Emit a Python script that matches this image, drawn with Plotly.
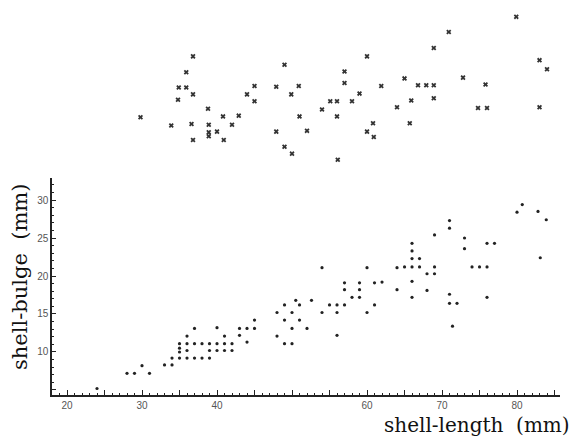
import plotly.graph_objects as go

# lower scatter: shell-length (mm) vs shell-bulge (mm)
length_mm = [24, 28, 29, 30, 31, 33, 34, 34,
             35, 36, 37, 38, 39,
             35, 35, 35, 36, 36, 36, 37, 37, 38,
             39, 39, 40, 40, 40, 41, 41, 41, 42, 42,
             43, 43, 44, 44, 45, 45,
             48, 48, 49, 49, 49, 50, 50, 50, 50.5, 51, 51, 52, 52.6,
             54, 54, 55, 56, 56, 56, 57, 57, 57, 58, 59, 59, 59,
             60, 60, 61, 61, 62, 64, 64, 65,
             66, 66, 66, 66, 66, 66, 67, 67, 68, 68, 69, 69, 69,
             71, 71, 71, 71, 71.4, 72, 73, 73, 74, 75, 76, 76, 77, 76,
             80, 80.7, 82.8, 83.9, 83.1]
bulge_mm = [5.2, 7.2, 7.2, 8.2, 7.2, 8.3, 8.3, 9.2,
            9.2, 9.2, 9.2, 9.2, 9.2,
            10.0, 10.5, 11.1, 10.2, 11.1, 12.1, 11.1, 13.1, 11.1,
            10.2, 11.1, 10.2, 11.1, 13.2, 10.2, 11.1, 12.1, 10.2, 11.1,
            12.2, 13.1, 11.3, 13.1, 13.1, 14.2,
            15.2, 12.1, 16.2, 14.2, 11.1, 15.2, 13.1, 11.1, 16.8, 16.2, 14.2, 13.1, 16.8,
            21.1, 15.2, 16.2, 16.2, 15.2, 12.2, 19.1, 18.2, 16.2, 17.2, 19.1, 18.2, 17.2,
            21.1, 15.2, 19.1, 16.2, 19.2, 21.1, 18.2, 21.2,
            24.3, 23.3, 22.3, 21.2, 19.3, 17.2, 22.3, 21.2, 20.3, 18.1, 25.4, 21.2, 20.3,
            27.3, 26.3, 17.6, 16.4, 13.4, 16.4, 25.0, 23.6, 21.2, 21.2, 21.2, 24.3, 24.3, 17.2,
            28.4, 29.4, 28.5, 27.4, 22.4]

# upper scatter (x marks)
upper_length = [36.8, 35.9, 34.9, 35.9, 36.8, 34.8, 29.8, 33.9, 36.6, 38.8,
                38.9, 40.8, 42.9, 42.0, 38.9, 38.9, 40.0, 36.8, 40.9, 44.0,
                45.0, 45.0, 47.9, 49.0, 49.9, 50.9, 47.9, 49.0, 50.0, 51.0,
                52.0, 54.0, 55.1, 56.0, 56.0, 56.1, 57.0, 57.0, 58.0, 59.0,
                60.0, 60.8, 60.0, 60.9, 61.9, 64.0, 65.0, 65.9, 65.7, 66.8,
                67.9, 68.9, 68.9, 68.9, 70.9, 79.9, 83.0, 84.0, 72.8, 75.8,
                74.8, 76.0, 83.0]
upper_value = [48.9, 46.8, 44.8, 44.8, 43.9, 43.2, 40.9, 39.8, 40.0, 42.0,
               39.9, 41.0, 41.1, 39.9, 38.9, 38.4, 39.0, 37.9, 37.9, 43.9,
               45.0, 43.0, 44.9, 47.8, 43.9, 45.0, 39.0, 37.0, 36.1, 41.0,
               39.1, 41.9, 43.0, 43.0, 41.0, 35.3, 46.9, 45.4, 43.0, 44.0,
               48.9, 40.1, 39.0, 38.3, 45.0, 42.2, 46.0, 43.1, 40.1, 45.1,
               45.1, 45.1, 43.4, 50.0, 52.1, 54.1, 48.4, 47.2, 46.1, 45.2,
               42.1, 42.1, 42.2]

x_tickvals = [20, 25, 30, 35, 40, 45, 50, 55, 60, 65, 70, 75, 80, 85]
x_ticktext = ["20", "", "30", "", "40", "", "", "", "60", "", "70", "", "80", ""]
y_tickvals = [5, 10, 15, 20, 25, 30]
y_ticktext = ["", "10", "15", "20", "25", "30"]

ink = "#222222"

fig = go.Figure()
fig.add_trace(go.Scatter(x=length_mm, y=bulge_mm, mode="markers",
                         marker=dict(size=3.2, color=ink),
                         xaxis="x", yaxis="y", showlegend=False))
fig.add_trace(go.Scatter(x=upper_length, y=upper_value, mode="markers",
                         marker=dict(size=4.5, color="#333333", symbol="x"),
                         xaxis="x", yaxis="y2", showlegend=False))

tickfont = dict(family="Liberation Sans Narrow, Liberation Sans", size=10, color="#555555")
xtitlefont = dict(family="DejaVu Serif", size=20, color="#111111")
ytitlefont = dict(family="DejaVu Serif", size=21, color="#111111")

fig.update_layout(
    width=569, height=429,
    margin=dict(l=44, r=17, t=0, b=42),
    paper_bgcolor="white", plot_bgcolor="white",
    xaxis=dict(range=[18, 85.73], anchor="y", showgrid=False, zeroline=False,
               showline=True, linecolor=ink, linewidth=1.5,
               tickvals=x_tickvals, ticktext=x_ticktext,
               ticks="inside", ticklen=5, tickcolor=ink, tickwidth=1,
               tickfont=tickfont,
               minor=dict(dtick=1, tick0=0, ticks="inside", ticklen=2,
                          tickcolor=ink, tickwidth=1)),
    yaxis=dict(domain=[0, 0.5607], range=[4.342, 32.895], anchor="x",
               showgrid=False, zeroline=False,
               showline=True, linecolor=ink, linewidth=1.5,
               tickvals=y_tickvals, ticktext=y_ticktext,
               ticks="inside", ticklen=4, tickcolor=ink, tickwidth=1,
               tickfont=tickfont,
               minor=dict(dtick=1, tick0=0, ticks="inside", ticklen=2.5,
                          tickcolor=ink, tickwidth=1)),
    yaxis2=dict(domain=[0.5607, 1], range=[32.895, 55.263], anchor="x",
                showgrid=False, zeroline=False, showline=False,
                showticklabels=False, ticks=""),
    annotations=[
        dict(text="shell-length\u00a0 (mm)", xref="paper", yref="paper",
             x=1.0236, y=-0.0775, xanchor="right", yanchor="middle",
             showarrow=False, font=xtitlefont),
        dict(text="shell-bulge\u00a0 (mm)", xref="paper", yref="paper",
             x=-0.063, y=0.305, xanchor="center", yanchor="middle",
             textangle=-90, showarrow=False, font=ytitlefont),
    ],
)

fig.write_html("out.html")
